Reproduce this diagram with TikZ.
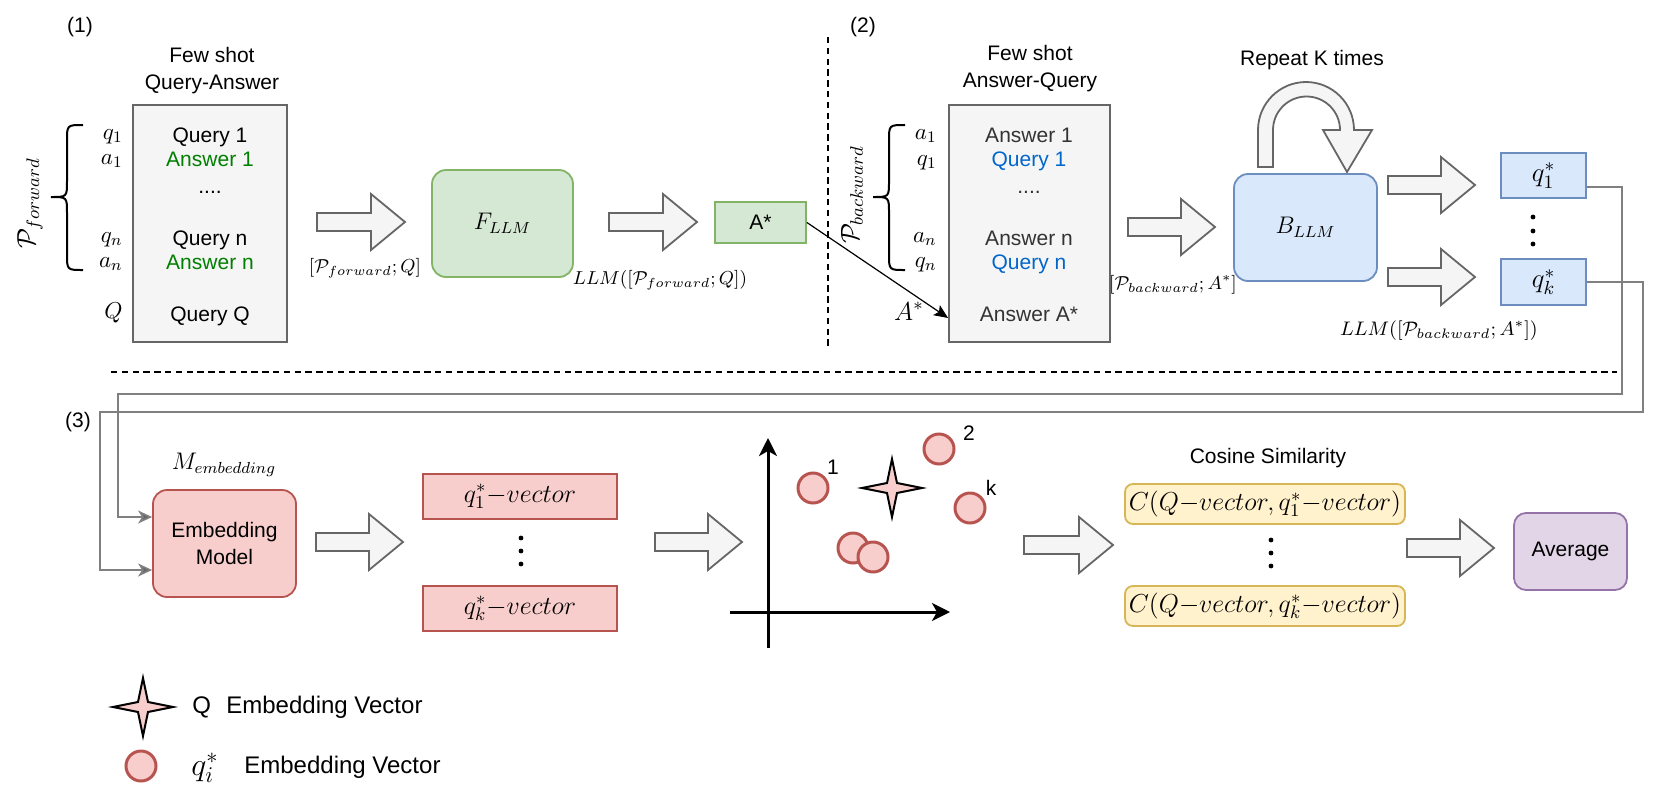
\RequirePackage{fix-cm}
\documentclass[tikz,border=0pt]{standalone}
\usepackage{fontspec}
\setmainfont{Liberation Sans}
\usetikzlibrary{arrows.meta,shapes.geometric}
\definecolor{strokegray}{HTML}{666666}
\definecolor{fillgray}{HTML}{F5F5F5}
\definecolor{gfill}{HTML}{D5E8D4}\definecolor{gstroke}{HTML}{82B366}
\definecolor{bfill}{HTML}{DAE8FC}\definecolor{bstroke}{HTML}{6C8EBF}
\definecolor{rfill}{HTML}{F8CECC}\definecolor{rstroke}{HTML}{B85450}
\definecolor{yfill}{HTML}{FFF2CC}\definecolor{ystroke}{HTML}{D6B656}
\definecolor{pfill}{HTML}{E1D5E7}\definecolor{pstroke}{HTML}{9673A6}
\definecolor{ansgreen}{HTML}{007F00}
\definecolor{qblue}{HTML}{0066CC}
\definecolor{txtgray}{HTML}{333333}
\definecolor{conngray}{HTML}{808080}
\newcommand\blkarrow[3]{\draw[blockarr] (#1,{#2-9}) -- ({#3-34},{#2-9}) -- ({#3-34},{#2-28}) -- (#3,#2) -- ({#3-34},{#2+28}) -- ({#3-34},{#2+9}) -- (#1,{#2+9}) -- cycle;}
\tikzset{
  txt/.style={font=\fontsize{10.5}{13.5}\selectfont, inner sep=0pt, align=center},
  arrlab/.style={font=\fontsize{9.4}{12}\selectfont, inner sep=0pt},
  mlab/.style={font=\fontsize{11.5}{13}\selectfont, inner sep=0pt},
  bigm/.style={font=\fontsize{13}{15}\selectfont, inner sep=0pt},
  fewbox/.style={draw=strokegray, fill=fillgray, line width=0.9pt, inner sep=0pt},
  gbox/.style={draw=gstroke, fill=gfill, line width=0.9pt, inner sep=0pt},
  bbox/.style={draw=bstroke, fill=bfill, line width=0.9pt, inner sep=0pt},
  rbox/.style={draw=rstroke, fill=rfill, line width=0.9pt, inner sep=0pt},
  ybox/.style={draw=ystroke, fill=yfill, line width=0.9pt, inner sep=0pt},
  pbox/.style={draw=pstroke, fill=pfill, line width=0.9pt, inner sep=0pt},
  blockarr/.style={draw=strokegray, fill=fillgray, line width=0.9pt, line join=miter},
  conn/.style={draw=conngray, line width=0.8pt, -{Stealth[length=7pt,width=6.5pt,inset=2pt,fill=strokegray]}},
  dashline/.style={black, line width=0.9pt, dash pattern=on 3.2pt off 2.2pt},
  axisline/.style={black, line width=1.5pt, -{Stealth[length=9pt,width=9pt,inset=2.5pt]}},
  embpt/.style={circle, draw=rstroke, fill=rfill, line width=1.5pt, minimum size=15pt, inner sep=0pt},
  qstar/.pic={\draw[black, fill=rfill, line width=1pt, line join=miter] (30,0) -- (5,-5) -- (0,-29) -- (-5,-5) -- (-30,0) -- (-5,5) -- (0,29) -- (5,5) -- cycle;}
}
\begin{document}
\begin{tikzpicture}[x=0.5pt,y=-0.5pt]
\useasboundingbox (0,0) rectangle (1660,798);

% ---------- section labels and dashed separators
\node[txt] (s1) at (80,27) {(1)};
\node[txt] (s2) at (863,27) {(2)};
\node[txt] (s3) at (78,422) {(3)};
\draw[dashline] (828,37) -- (828,349);
\draw[dashline] (111,372) -- (1617,372);

% ---------- (1) forward
\node[txt] (t1) at (212,71) {Few shot\\Query-Answer};
\node[fewbox, minimum width=77pt, minimum height=118.5pt] (fs1) at (210,223.5) {};
\node[txt, anchor=base] (f1) at (210,142) {Query 1};
\node[txt, anchor=base, text=ansgreen] (f2) at (210,166) {Answer 1};
\node[txt, anchor=base] (f3) at (210,193) {....};
\node[txt, anchor=base] (f4) at (210,245) {Query n};
\node[txt, anchor=base, text=ansgreen] (f5) at (210,269) {Answer n};
\node[txt, anchor=base] (f6) at (210,321) {Query Q};
\node[mlab, anchor=base east] (lq1) at (123,139) {$q_1$};
\node[mlab, anchor=base east] (la1) at (123,164) {$a_1$};
\node[mlab, anchor=base east] (lqn) at (123,242) {$q_n$};
\node[mlab, anchor=base east] (lan) at (123,267) {$a_n$};
\node[mlab, anchor=base east] (lQ) at (123,318) {$Q$};
\draw[black, line width=1pt] (83,125) .. controls (67,125) .. (67,141) -- (67,181) .. controls (67,197) .. (51,197) .. controls (67,197) .. (67,213) -- (67,254) .. controls (67,270) .. (83,270);
\node[bigm, rotate=90] (pf) at (30,203) {$\mathcal{P}_{forward}$};

\blkarrow{317}{222}{405}
\node[arrlab] (l1) at (365,268) {$[\mathcal{P}_{forward};Q]$};
\node[gbox, rounded corners=7pt, minimum width=70.5pt, minimum height=53.5pt, font=\fontsize{12}{14}\selectfont] (F) at (502.5,223.5) {$F_{LLM}$};
\blkarrow{609}{222}{697}
\node[arrlab] (l2) at (660,280) {$LLM([\mathcal{P}_{forward};Q])$};
\node[gbox, minimum width=45.5pt, minimum height=20.5pt, font=\fontsize{10.5}{13}\selectfont] (Astar) at (760.5,222.5) {A*};

% ---------- (2) backward
\node[txt] (t2) at (1030,69) {Few shot\\Answer-Query};
\node[fewbox, minimum width=80.5pt, minimum height=118.5pt] (fs2) at (1029.5,223.5) {};
\node[txt, anchor=base, text=txtgray] (b1) at (1029,142) {Answer 1};
\node[txt, anchor=base, text=qblue] (b2) at (1029,166) {Query 1};
\node[txt, anchor=base, text=txtgray] (b3) at (1029,193) {....};
\node[txt, anchor=base, text=txtgray] (b4) at (1029,245) {Answer n};
\node[txt, anchor=base, text=qblue] (b5) at (1029,269) {Query n};
\node[txt, anchor=base, text=txtgray] (b6) at (1029,321) {Answer A*};
\node[mlab, anchor=base east] (ma1) at (937,139) {$a_1$};
\node[mlab, anchor=base east] (mq1) at (937,165) {$q_1$};
\node[mlab, anchor=base east] (man) at (937,242) {$a_n$};
\node[mlab, anchor=base east] (mqn) at (937,267) {$q_n$};
\node[bigm, anchor=base east] (mA) at (924,320) {$A^*$};
\draw[black, line width=1pt] (905,125) .. controls (889,125) .. (889,141) -- (889,181) .. controls (889,197) .. (873,197) .. controls (889,197) .. (889,213) -- (889,254) .. controls (889,270) .. (905,270);
\node[bigm, rotate=90] (pb) at (852,195) {$\mathcal{P}_{backward}$};
\draw[black, line width=0.6pt, -{Stealth[length=7pt,width=6pt,inset=1.5pt]}] (Astar.east) -- ([yshift=-47.25pt]fs2.west);

\blkarrow{1128}{227}{1215}
\node[arrlab] (l3) at (1173,285) {$[\mathcal{P}_{backward};A^*]$};
\node[bbox, rounded corners=7pt, minimum width=71.5pt, minimum height=53.5pt, font=\fontsize{12}{14}\selectfont] (B) at (1305.5,227.5) {$B_{LLM}$};
\node[txt] (rep) at (1312,60) {Repeat K times};
\draw[blockarr] (1258,167) -- (1258,130) .. controls (1258,103.5) and (1279.5,82) .. (1306,82) .. controls (1332.5,82) and (1354,103.5) .. (1354,130) -- (1372,130) -- (1347,172) -- (1323,130) -- (1340,130) .. controls (1340,111.5) and (1325,96.5) .. (1306.5,96.5) .. controls (1288,96.5) and (1273,111.5) .. (1273,130) -- (1273,167) -- cycle;
\blkarrow{1388}{185}{1475}
\blkarrow{1388}{277}{1475}
\node[bbox, minimum width=42.5pt, minimum height=22.5pt, font=\fontsize{13.5}{15}\selectfont] (q1) at (1543.5,175.5) {$q_1^*$};
\node[bbox, minimum width=42.5pt, minimum height=23pt, font=\fontsize{13.5}{15}\selectfont] (qk) at (1543.5,282) {$q_k^*$};
\foreach \yy in {217,231,244} \fill (1533,\yy) circle[radius=1.2pt];
\node[arrlab, font=\fontsize{9.8}{12}\selectfont] (l4) at (1439,331) {$LLM([\mathcal{P}_{backward};A^*])$};

% ---------- (3) embedding
\node[bigm, font=\fontsize{12}{14}\selectfont] (memb) at (224,465) {$M_{embedding}$};
\node[rbox, rounded corners=7pt, minimum width=71.5pt, minimum height=53.5pt, txt] (emb) at (224.5,543.5) {Embedding\\Model};
\draw[conn] ([yshift=-5.75pt]q1.east) -- (1622,187) -- (1622,394) -- (118,394) -- (118,517) -- ([yshift=13.25pt]emb.west);
\draw[conn] (qk.east) -- (1643,282) -- (1643,412) -- (100,412) -- (100,570) -- ([yshift=-13.25pt]emb.west);
\blkarrow{316}{542}{403}
\node[rbox, minimum width=97pt, minimum height=22.5pt, font=\fontsize{13}{15}\selectfont] (v1) at (520,496.5) {$q_1^*{-}vector$};
\node[rbox, minimum width=97pt, minimum height=22.5pt, font=\fontsize{13}{15}\selectfont] (vk) at (520,608.5) {$q_k^*{-}vector$};
\foreach \yy in {538,551,564} \fill (521,\yy) circle[radius=1.2pt];
\blkarrow{655}{542}{742}

% plot
\draw[axisline] (768,648) -- (768,438);
\draw[axisline] (730,612) -- (950,612);
\node[embpt] (p1) at (813,488) {};
\node[embpt] (p2) at (939,449) {};
\node[embpt] (pk) at (970,508) {};
\node[embpt] (pa) at (853,548) {};
\node[embpt] (pb) at (873,557) {};
\node[txt] (n1) at (833,467) {1};
\node[txt] (n2) at (969,433) {2};
\node[txt] (nk) at (991,488) {k};
\pic (qs) at (892,488) {qstar};

\blkarrow{1024}{545}{1113}
\node[txt] (cos) at (1268,458) {Cosine Similarity};
\node[ybox, rounded corners=4pt, minimum width=140pt, minimum height=20pt, font=\fontsize{13}{15}\selectfont] (c1) at (1265,504) {$C(Q{-}vector,q_1^*{-}vector)$};
\node[ybox, rounded corners=4pt, minimum width=140pt, minimum height=20pt, font=\fontsize{13}{15}\selectfont] (ck) at (1265,606) {$C(Q{-}vector,q_k^*{-}vector)$};
\foreach \yy in {540,553,566} \fill (1271,\yy) circle[radius=1.2pt];
\blkarrow{1407}{548}{1494}
\node[pbox, rounded corners=6pt, minimum width=56.5pt, minimum height=38.5pt, txt] (avg) at (1570.5,551.5) {Average};

% ---------- legend
\pic (ls) at (143,707) {qstar};
\node[font=\fontsize{12}{14}\selectfont, inner sep=0pt, anchor=west] (lgQ) at (192,707) {Q};
\node[font=\fontsize{12}{14}\selectfont, inner sep=0pt, anchor=west] (lgQt) at (226,707) {Embedding Vector};
\node[embpt] (lgc) at (141,766) {};
\node[font=\fontsize{16}{18}\selectfont, inner sep=0pt, anchor=west] (lgq) at (191,768) {$q_i^*$};
\node[font=\fontsize{12}{14}\selectfont, inner sep=0pt, anchor=west] (lgqt) at (244,767) {Embedding Vector};
\end{tikzpicture}
\end{document}
